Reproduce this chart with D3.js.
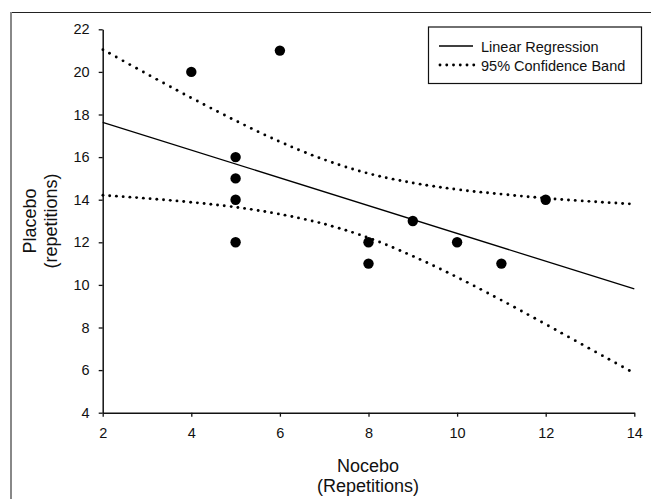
<!DOCTYPE html>
<html>
<head>
<meta charset="utf-8">
<script src="https://cdn.jsdelivr.net/npm/d3@7"></script>
<style>
  body { margin: 0; background: #fff; }
  svg { display: block; font-family: "Liberation Sans", Arial, sans-serif; }
</style>
</head>
<body>
<svg id="chart" width="651" height="499"></svg>
<script>
// ---- data ----
const nocebo  = [4, 5, 5, 5, 5, 6, 8, 8, 9, 10, 11, 12];
const placebo = [20, 16, 15, 14, 12, 21, 12, 11, 13, 12, 11, 14];

const regX = [2, 14];
const regY = [17.63, 9.81];

const bandX     = [2, 3, 4, 5, 6, 7, 8, 9, 10, 11, 12, 13, 14];
const bandUpper = [21.05, 19.90, 18.78, 17.71, 16.72, 15.88, 15.23, 14.79, 14.48, 14.26, 14.07, 13.92, 13.79];
const bandLower = [14.21, 14.06, 13.88, 13.65, 13.32, 12.86, 12.21, 11.35, 10.36, 9.28, 8.15, 7.00, 5.85];

const xTicks = [2, 4, 6, 8, 10, 12, 14];
const yTicks = [4, 6, 8, 10, 12, 14, 16, 18, 20, 22];

const legendLabels = ["Linear Regression", "95% Confidence Band"];
const xTitle = ["Nocebo", "(Repetitions)"];
const yTitle = ["Placebo", "(repetitions)"];

// ---- layout ----
const svg = d3.select("#chart");
const mLeft = 102.7, mRight = 634.3, mTop = 29.3, mBottom = 412.7;
const dotStep = 6.75;

const x = d3.scaleLinear().domain([2, 14]).range([mLeft, mRight]);
const y = d3.scaleLinear().domain([4, 22]).range([mBottom, mTop]);

// outer frame (top and left edges visible)
svg.append("line").attr("x1", 11).attr("x2", 651).attr("y1", 12.5).attr("y2", 12.5)
  .attr("stroke", "#222").attr("stroke-width", 1.2);
svg.append("line").attr("x1", 11).attr("x2", 11).attr("y1", 12).attr("y2", 499)
  .attr("stroke", "#888").attr("stroke-width", 2);

// axes
const xAxis = d3.axisBottom(x).tickValues(xTicks).tickSize(4).tickPadding(11).tickSizeOuter(0);
const yAxis = d3.axisLeft(y).tickValues(yTicks).tickSize(4).tickPadding(9).tickSizeOuter(0);

const gx = svg.append("g").attr("transform", `translate(0,${mBottom})`).call(xAxis);
const gy = svg.append("g").attr("transform", `translate(${mLeft},0)`).call(yAxis);
[gx, gy].forEach(g => {
  g.attr("font-size", null).attr("font-family", null);
  g.select(".domain").attr("stroke", "#111").attr("stroke-width", 1.5);
  g.selectAll(".tick line").attr("stroke", "#111").attr("stroke-width", 1.3);
  g.selectAll(".tick text").attr("fill", "#111")
    .style("font-size", "14.5px")
    .style("font-family", "'Liberation Sans', Arial, sans-serif");
});

// confidence bands: dots evenly spaced in x along each curve
const line = d3.line().x(d => x(d[0])).y(d => y(d[1])).curve(d3.curveMonotoneX);
[bandUpper, bandLower].forEach(b => {
  const path = svg.append("path")
    .attr("d", line(bandX.map((v, i) => [v, b[i]])))
    .attr("fill", "none").attr("stroke", "none");
  const node = path.node();
  const len = node.getTotalLength();
  const pts = [];
  let nextX = mLeft;
  for (let s = 0; s <= len; s += 0.25) {
    const p = node.getPointAtLength(s);
    if (p.x >= nextX) { pts.push([p.x, p.y]); nextX += dotStep; }
  }
  svg.append("g").selectAll("circle").data(pts).join("circle")
    .attr("cx", d => d[0]).attr("cy", d => d[1]).attr("r", 1.45).attr("fill", "#000");
});

// regression line
svg.append("path")
  .attr("d", d3.line().x(d => x(d[0])).y(d => y(d[1]))(regX.map((v, i) => [v, regY[i]])))
  .attr("fill", "none").attr("stroke", "#000").attr("stroke-width", 1.3);

// points
svg.append("g").selectAll("circle")
  .data(nocebo.map((v, i) => [v, placebo[i]]))
  .join("circle")
  .attr("cx", d => x(d[0])).attr("cy", d => y(d[1])).attr("r", 5.2).attr("fill", "#000");

// axis titles
svg.append("text").attr("x", 368).attr("y", 472).attr("text-anchor", "middle")
  .attr("font-size", 18).attr("fill", "#111").text(xTitle[0]);
svg.append("text").attr("x", 368).attr("y", 492).attr("text-anchor", "middle")
  .attr("font-size", 18).attr("fill", "#111").text(xTitle[1]);

const yt = svg.append("g").attr("transform", `translate(0,${(mTop + mBottom) / 2}) rotate(-90)`);
yt.append("text").attr("x", 0).attr("y", 36).attr("text-anchor", "middle")
  .attr("font-size", 18).attr("fill", "#111").text(yTitle[0]);
yt.append("text").attr("x", 0).attr("y", 57).attr("text-anchor", "middle")
  .attr("font-size", 18).attr("fill", "#111").text(yTitle[1]);

// legend
const lg = svg.append("g");
lg.append("rect").attr("x", 428.5).attr("y", 27).attr("width", 213).attr("height", 56.5)
  .attr("fill", "#fff").attr("stroke", "#111").attr("stroke-width", 1.2);
lg.append("line").attr("x1", 439).attr("x2", 473).attr("y1", 46).attr("y2", 46)
  .attr("stroke", "#000").attr("stroke-width", 1.3);
lg.append("g").selectAll("circle").data(d3.range(6)).join("circle")
  .attr("cx", i => 440 + i * dotStep).attr("cy", 65).attr("r", 1.45).attr("fill", "#000");
legendLabels.forEach((t, i) => {
  lg.append("text").attr("x", 481).attr("y", 51.5 + i * 19).attr("font-size", 14.5)
    .attr("fill", "#111").text(t);
});
</script>
</body>
</html>
